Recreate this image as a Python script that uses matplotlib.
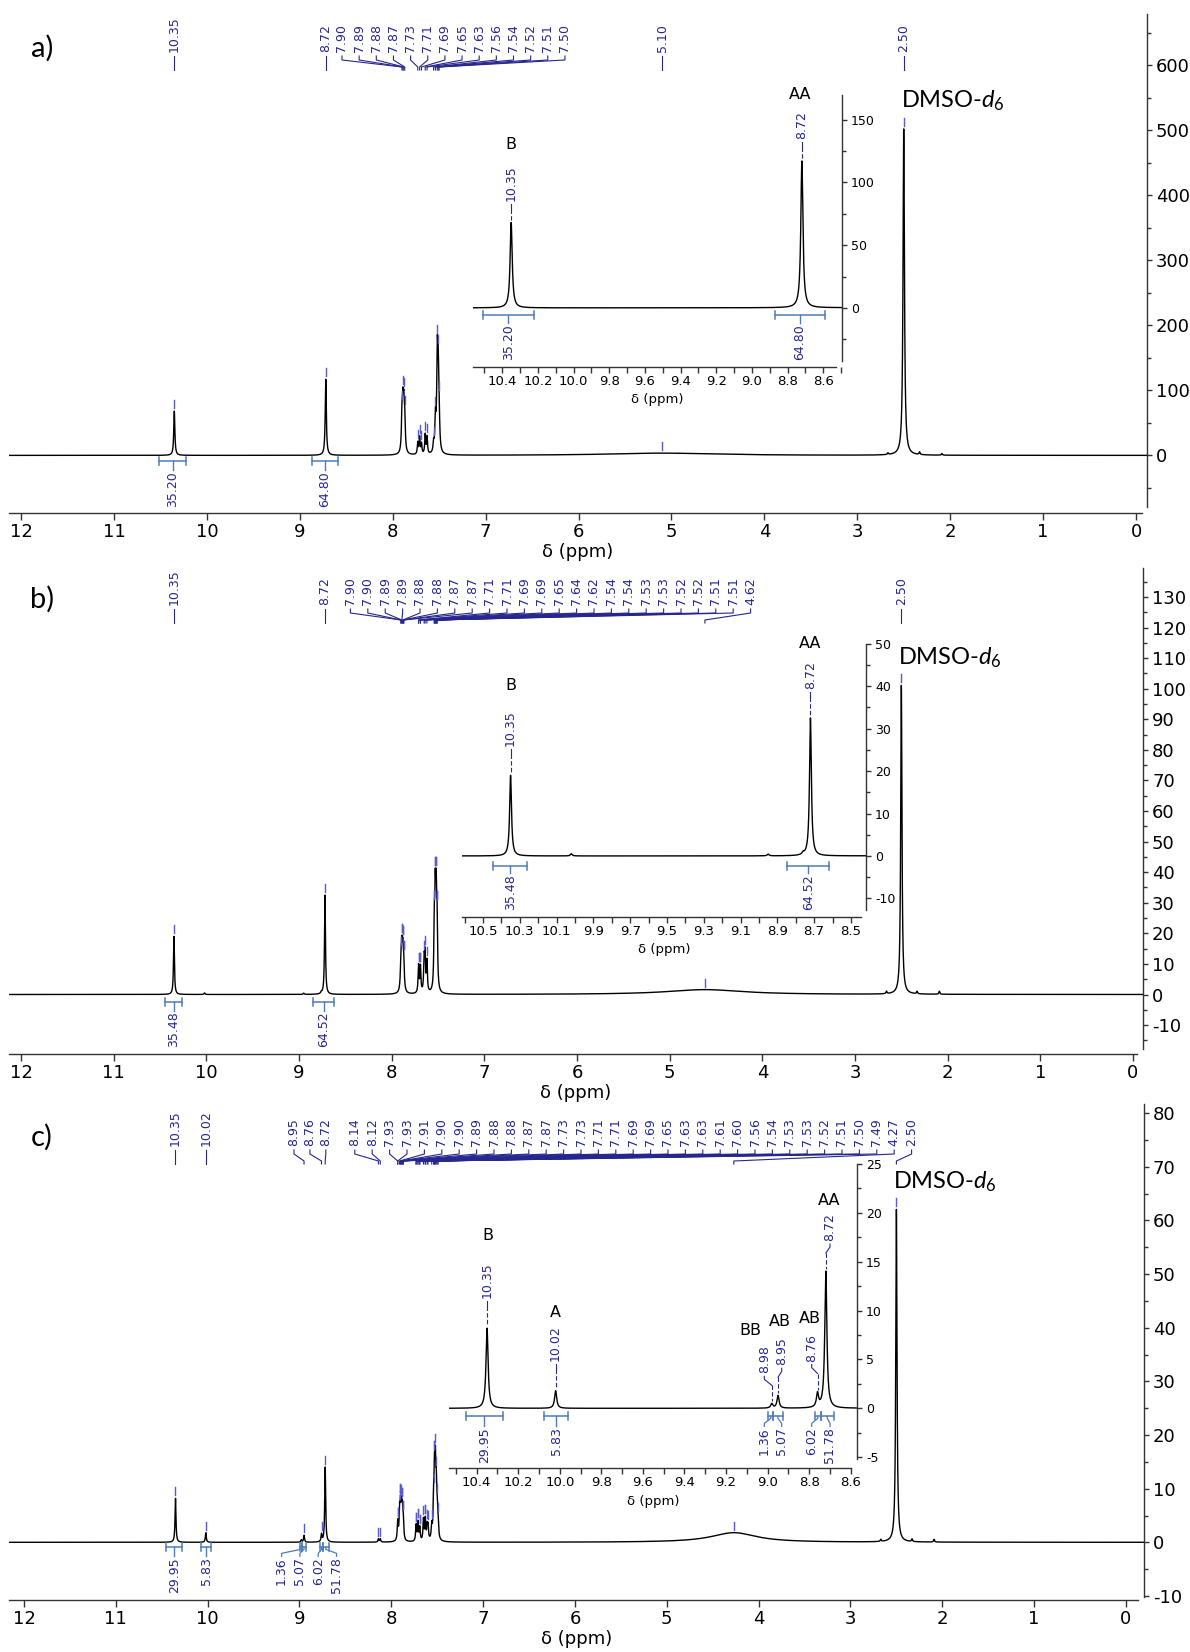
import numpy as np
import matplotlib.pyplot as plt
from matplotlib.lines import Line2D
from matplotlib.ticker import MultipleLocator, FixedLocator, FormatStrFormatter

W, H = 1190, 1652
NAVY = '#26268f'
MARK = '#5a5ad0'
BRACKET = '#4f7cb8'
AXC = '#333333'

# ---------------- data: panel a ----------------
A_PEAK_PPM = [10.35, 8.72, 7.90, 7.89, 7.88, 7.87, 7.73, 7.71, 7.69, 7.65, 7.63, 7.56,
              7.54, 7.52, 7.51, 7.50, 5.10, 2.67, 2.50, 2.33, 2.09]
A_PEAK_HEIGHT = [68, 117, 52, 63, 60, 45, 18, 26, 16, 30, 26, 14,
                 50, 138, 105, 45, 3.5, 2.5, 502, 4, 2.5]
A_PEAK_HWHM = [0.007, 0.007, 0.007, 0.007, 0.007, 0.007, 0.006, 0.006, 0.006, 0.006, 0.006, 0.006,
               0.007, 0.007, 0.007, 0.007, 0.7, 0.006, 0.009, 0.006, 0.006]
A_LABELS = ["10.35", "8.72", "7.90", "7.89", "7.88", "7.87", "7.73", "7.71", "7.69", "7.65",
            "7.63", "7.56", "7.54", "7.52", "7.51", "7.50", "5.10", "2.50"]
A_INT_VALUES = ["35.20", "64.80"]
A_INT_FROM = [10.51, 8.87]
A_INT_TO = [10.22, 8.59]
A_INSET_LABELS = ["10.35", "8.72"]
A_INSET_LETTERS = ["B", "AA"]

# ---------------- data: panel b ----------------
B_PEAK_PPM = [10.35, 10.02, 8.95, 8.76, 8.72, 7.90, 7.89, 7.88, 7.87, 7.71, 7.69, 7.65, 7.64,
              7.62, 7.54, 7.53, 7.52, 7.51, 4.62, 2.66, 2.50, 2.33, 2.09]
B_PEAK_HEIGHT = [19, 0.5, 0.4, 0.5, 32.5, 9.6, 11.6, 11, 8.3, 9, 8.5, 10, 11.5,
                 10, 20, 27, 27, 20, 1.6, 0.8, 101, 0.8, 1.0]
B_PEAK_HWHM = [0.006, 0.006, 0.006, 0.006, 0.006, 0.007, 0.007, 0.007, 0.007, 0.006, 0.006, 0.006, 0.006,
               0.006, 0.006, 0.006, 0.006, 0.006, 0.5, 0.006, 0.008, 0.006, 0.006]
B_LABELS = ["10.35", "8.72", "7.90", "7.90", "7.89", "7.89", "7.88", "7.88", "7.87", "7.87",
            "7.71", "7.71", "7.69", "7.69", "7.65", "7.64", "7.62", "7.54", "7.54", "7.53",
            "7.53", "7.52", "7.52", "7.51", "7.51", "4.62", "2.50"]
B_INT_VALUES = ["35.48", "64.52"]
B_INT_FROM = [10.444, 8.846]
B_INT_TO = [10.259, 8.618]
B_INSET_LABELS = ["10.35", "8.72"]
B_INSET_LETTERS = ["B", "AA"]

# ---------------- data: panel c ----------------
C_PEAK_PPM = [10.35, 10.02, 8.98, 8.95, 8.76, 8.72, 8.14, 8.12, 7.93, 7.91, 7.90, 7.89, 7.88,
              7.87, 7.73, 7.71, 7.69, 7.65, 7.63, 7.61, 7.60, 7.56, 7.54, 7.53, 7.52, 7.51,
              7.50, 7.49, 4.27, 2.67, 2.50, 2.33, 2.09]
C_PEAK_HEIGHT = [8.2, 1.8, 0.45, 1.3, 1.4, 14.0, 0.6, 0.6, 3.5, 5, 5.5, 5, 5,
                 3.5, 3.0, 3.5, 2.5, 4, 4, 2.5, 2.5, 2.5, 6, 11, 12, 8,
                 4.5, 2.5, 1.8, 0.4, 62, 0.5, 0.5]
C_PEAK_HWHM = [0.006] * 28 + [0.3, 0.006, 0.008, 0.006, 0.006]
C_LABELS = ["10.35", "10.02", "8.95", "8.76", "8.72", "8.14", "8.12", "7.93", "7.93", "7.91",
            "7.90", "7.90", "7.89", "7.88", "7.88", "7.87", "7.87", "7.73", "7.73", "7.71",
            "7.71", "7.69", "7.69", "7.65", "7.63", "7.63", "7.61", "7.60", "7.56", "7.54",
            "7.53", "7.53", "7.52", "7.51", "7.50", "7.49", "4.27", "2.50"]
C_INT_VALUES = ["29.95", "5.83", "1.36", "5.07", "6.02", "51.78"]
C_INT_FROM = [10.453, 10.076, 8.997, 8.973, 8.772, 8.745]
C_INT_TO = [10.275, 9.959, 8.973, 8.928, 8.745, 8.681]
C_INSET_LABELS = ["10.35", "10.02", "8.98", "8.95", "8.76", "8.72"]
C_INSET_LETTERS = ["B", "A", "BB", "AB", "AB", "AA"]

MAIN_XTICKS = list(range(0, 13))
INSET_A_XTICKS = [10.4, 10.2, 10.0, 9.8, 9.6, 9.4, 9.2, 9.0, 8.8, 8.6]
INSET_B_XTICKS = [10.5, 10.3, 10.1, 9.9, 9.7, 9.5, 9.3, 9.1, 8.9, 8.7, 8.5]
INSET_C_XTICKS = [10.4, 10.2, 10.0, 9.8, 9.6, 9.4, 9.2, 9.0, 8.8, 8.6]

plt.rcParams['font.family'] = 'DejaVu Sans'
plt.rcParams['axes.unicode_minus'] = False
plt.rcParams['mathtext.fontset'] = 'custom'
plt.rcParams['mathtext.rm'] = 'Lato'
plt.rcParams['mathtext.it'] = 'Lato:italic'

fig = plt.figure(figsize=(W / 100, H / 100), dpi=100)
renderer = fig.canvas.get_renderer()

X = np.linspace(12.4, -0.4, 51201)


def curve(x, ppm, height, hwhm):
    y = np.zeros_like(x, dtype=float)
    for p, h, w in zip(ppm, height, hwhm):
        y += h * w ** 2 / ((x - p) ** 2 + w ** 2)
    return y


def box_axes(l, t, r, b):
    ax = fig.add_axes([l / W, 1 - b / H, (r - l) / W, (b - t) / H])
    ax.set_facecolor('none')
    return ax


def px(ax, x, y):
    dx, dy = ax.transData.transform((x, y))
    return dx, H - dy


def fline(xs, ys, **kw):
    kw.setdefault('color', NAVY)
    kw.setdefault('lw', 0.8)
    fig.add_artist(Line2D(np.array(xs, float) / W, 1 - np.array(ys, float) / H,
                          transform=fig.transFigure, **kw))


def ftext(x, y, s, **kw):
    return fig.text(x / W, 1 - y / H, s, **kw)


def slots(ax, ppms, groups):
    xt = [px(ax, p, 0)[0] for p in ppms]
    if groups is None:
        return xt, xt
    xs, i = [], 0
    for n, start, gap in groups:
        for k in range(n):
            xs.append(xt[i + k] if start is None else start + k * gap)
        i += n
    return xs, xt


def style_axes(ax, xlim, ylim, xbound, ybound, xmajor, xminor, ymaj, ymin, xfs, yfs, xlen, ylen):
    ax.set_xlim(*xlim)
    ax.set_ylim(*ylim)
    ax.spines['left'].set_visible(False)
    ax.spines['top'].set_visible(False)
    for s in ('right', 'bottom'):
        ax.spines[s].set_color(AXC)
        ax.spines[s].set_linewidth(1.0)
    ax.spines['right'].set_bounds(*ybound)
    ax.spines['bottom'].set_bounds(*xbound)
    ax.yaxis.tick_right()
    ax.xaxis.set_major_locator(FixedLocator(xmajor))
    if xminor:
        ax.xaxis.set_minor_locator(MultipleLocator(xminor))
    ax.yaxis.set_major_locator(MultipleLocator(ymaj))
    ax.yaxis.set_minor_locator(MultipleLocator(ymin))
    ax.tick_params(axis='x', which='both', direction='out', length=xlen, width=1, color=AXC,
                   labelsize=xfs, pad=2)
    ax.tick_params(axis='y', which='major', direction='out', length=ylen, width=1, color=AXC,
                   labelsize=yfs, pad=3)
    ax.tick_params(axis='y', which='minor', direction='out', length=ylen * 0.8, width=1, color=AXC)


def main_panel(box, xlim, ylim, xbound, ybound, ymaj, ymin, peaks, labels, groups, ytxt, lab_fs,
               ints, int_groups, int_off, letter, letter_y):
    ax = box_axes(*box)
    style_axes(ax, xlim, ylim, xbound, ybound, MAIN_XTICKS, None, ymaj, ymin, 13, 13, 5, 3.5)
    ax.xaxis.set_major_formatter(FormatStrFormatter('%d'))
    y = curve(X, *peaks)
    ax.plot(X, y, color='black', lw=1.0)
    l, t, r, b = box
    ftext((l + r) / 2, b + 39, 'δ (ppm)', ha='center', va='center', fontsize=13)
    ftext(42, letter_y, letter, ha='center', va='center', fontsize=21, family='Lato')

    # top peak labels with connectors
    ppms = [float(s) for s in labels]
    xs, xt = slots(ax, ppms, groups)
    for s, xl, xp, p in zip(labels, xs, xt, ppms):
        ftext(xl, ytxt, s, rotation=90, ha='center', va='bottom', fontsize=lab_fs, color=NAVY)
        if abs(xl - xp) < 0.6:
            fline([xl, xl], [ytxt + 4, ytxt + 18])
        else:
            fline([xl, xl, xp, xp], [ytxt + 4, ytxt + 8, ytxt + 15, ytxt + 18])
        top = px(ax, p, curve(np.array([p]), *peaks)[0])[1]
        fline([xp, xp], [top - 3, top - 11], color=MARK, lw=1.0)

    # DMSO label
    dp = 2.50
    xd, yd = px(ax, dp, curve(np.array([dp]), *peaks)[0])
    ftext(xd - 3, yd - 28, r'DMSO-$\mathit{d}_6$', ha='left', va='center', fontsize=17, family='Lato')

    draw_integrals(ax, ints, int_groups, int_off)
    return ax, y


def draw_integrals(ax, ints, groups, off):
    vals, froms, tos = ints
    bo, to = off
    centers = [(a + b) / 2 for a, b in zip(froms, tos)]
    xs, xc = slots(ax, centers, groups)
    y0 = px(ax, 0, 0)[1]
    yb, yt = y0 + bo, y0 + to
    for v, f, t, xl, c in zip(vals, froms, tos, xs, xc):
        x1, x2 = px(ax, f, 0)[0], px(ax, t, 0)[0]
        fline([x1, x2], [yb, yb], color=BRACKET, lw=1.1)
        fline([x1, x1], [yb - 4, yb + 4], color=BRACKET, lw=1.1)
        fline([x2, x2], [yb - 4, yb + 4], color=BRACKET, lw=1.1)
        if abs(xl - c) < 0.6:
            fline([c, c], [yb, yt], color=BRACKET, lw=1.0)
        else:
            fline([c, c, xl, xl], [yb, yb + 2, yt - 3, yt], color=BRACKET, lw=0.9)
        ftext(xl, yt + 1, v, rotation=90, ha='center', va='top', fontsize=9, color=NAVY)


def inset_panel(box, xlim, ylim, xbound, ybound, xticks, ymaj, ymin, peaks, labels, groups,
                gap, letters, letter_off, ints, int_groups, int_off):
    ax = box_axes(*box)
    style_axes(ax, xlim, ylim, xbound, ybound, xticks, 0.1, ymaj, ymin, 9.5, 9, 4, 3.5)
    ax.xaxis.set_major_formatter(FormatStrFormatter('%.1f'))
    y = curve(X, *peaks)
    ax.plot(X, y, color='black', lw=1.0)
    l, t, r, b = box
    ftext((l + r) / 2, b + 33, 'δ (ppm)', ha='center', va='center', fontsize=9.5)

    ppms = [float(s) for s in labels]
    xs, xt = slots(ax, ppms, groups)
    for s, xl, xp, p, let, (dx, dy) in zip(labels, xs, xt, ppms, letters, letter_off):
        top = px(ax, p, curve(np.array([p]), *peaks)[0])[1]
        ytb = top - gap
        tx = ftext(xl, ytb, s, rotation=90, ha='center', va='bottom', fontsize=9, color=NAVY)
        if abs(xl - xp) < 0.6:
            fline([xl, xl], [ytb + 3, ytb + 8])
            fline([xp, xp], [ytb + 8, top - 2], ls=(0, (4, 2)))
        else:
            fline([xl, xl, xp], [ytb + 3, ytb + 6, ytb + 12])
            fline([xp, xp], [ytb + 12, top - 2], ls=(0, (4, 2)))
        th = tx.get_window_extent(renderer).height
        ftext(xl + dx, ytb - th + dy, let, ha='center', va='center', fontsize=11.5)

    draw_integrals(ax, ints, int_groups, int_off)
    return ax


# ---------------- panel a ----------------
main_panel((9, 14.3, 1147, 513), (12.129, -0.118), (-88.6, 678.6), (12.129, -0.061), (-79.4, 678.6),
           100, 50, (A_PEAK_PPM, A_PEAK_HEIGHT, A_PEAK_HWHM), A_LABELS,
           [(1, None, 0), (1, None, 0), (14, 342, 17.15), (1, None, 0), (1, None, 0)], 52, 9,
           (A_INT_VALUES, A_INT_FROM, A_INT_TO), None, (6, 15), 'a)', 48)
inset_panel((473, 94.6, 842, 366.8), (10.564, 8.495), (-46.9, 170), (10.564, 8.53), (-42, 170),
            INSET_A_XTICKS, 50, 25, (A_PEAK_PPM, A_PEAK_HEIGHT, A_PEAK_HWHM), A_INSET_LABELS, None,
            22, A_INSET_LETTERS, [(0, -20), (-2, -17)],
            (A_INT_VALUES, A_INT_FROM, A_INT_TO), None, (7, 15))

# ---------------- panel b ----------------
main_panel((9, 567.6, 1143, 1054), (12.13, -0.108), (-19.45, 139.6), (12.13, -0.043), (-17.9, 139.6),
           10, 5, (B_PEAK_PPM, B_PEAK_HEIGHT, B_PEAK_HWHM), B_LABELS,
           [(1, None, 0), (1, None, 0), (24, 350.4, 17.4), (1, None, 0)], 605, 9,
           (B_INT_VALUES, B_INT_FROM, B_INT_TO), None, (7, 16), 'b)', 599)
inset_panel((462, 643, 866, 916.7), (10.614, 8.418), (-14.3, 50.2), (10.614, 8.445), (-12.7, 50),
            INSET_B_XTICKS, 10, 5, (B_PEAK_PPM, B_PEAK_HEIGHT, B_PEAK_HWHM), B_INSET_LABELS, None,
            29, B_INSET_LETTERS, [(0, -25), (0, -18)],
            (B_INT_VALUES, B_INT_FROM, B_INT_TO), None, (10, 17))

# ---------------- panel c ----------------
main_panel((9, 1103.5, 1143.6, 1600), (12.163, -0.192), (-10.75, 81.8), (12.163, -0.13), (-10.2, 81.8),
           10, 5, (C_PEAK_PPM, C_PEAK_HEIGHT, C_PEAK_HWHM), C_LABELS,
           [(1, None, 0), (1, None, 0), (3, 294, 15.9), (33, 354.8, 17.4)], 1146, 9,
           (C_INT_VALUES, C_INT_FROM, C_INT_TO), [(1, None, 0), (1, None, 0), (4, 281.6, 18.3)],
           (5, 14), 'c)', 1137)
inset_panel((449, 1164, 857, 1468), (10.533, 8.57), (-6.1, 25), (10.533, 8.6), (-5.2, 25),
            INSET_C_XTICKS, 5, 2.5, (C_PEAK_PPM, C_PEAK_HEIGHT, C_PEAK_HWHM), C_INSET_LABELS,
            [(1, None, 0), (1, None, 0), (2, 764.3, 17.4), (2, 811.7, 18.3)],
            30, C_INSET_LETTERS, [(1, -27), (0, -12), (-14, -15), (-2, -16), (-2, -15), (-1, -13)],
            (C_INT_VALUES, C_INT_FROM, C_INT_TO),
            [(1, None, 0), (1, None, 0), (2, 764.3, 17.4), (2, 811.7, 18.3)], (8, 18))

fig.savefig('out.png', dpi=100)
